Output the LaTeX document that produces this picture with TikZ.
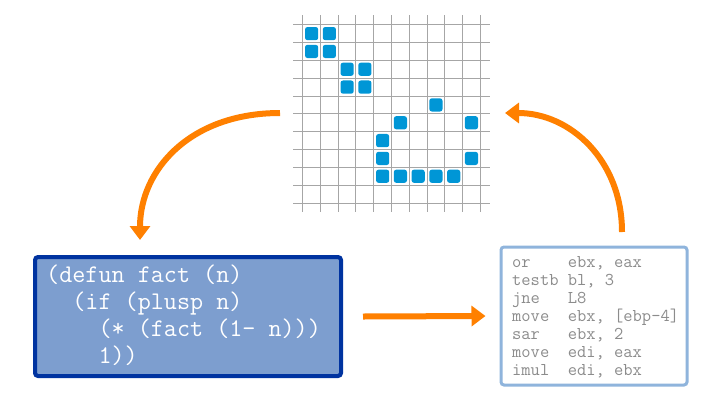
\documentclass[tikz,border=0pt]{standalone}
\usetikzlibrary{arrows.meta}
\definecolor{blk}{RGB}{0,150,214}
\definecolor{org}{RGB}{255,128,0}
\definecolor{lisp}{RGB}{125,158,207}
\definecolor{lispb}{RGB}{0,51,160}
\definecolor{asmb}{RGB}{143,180,220}
\tikzset{
  conn/.style={org,line width=6pt,-{Triangle[width=20pt,length=14pt]}},
  cell/.style={blk,rounded corners=2.5pt},
}
\begin{document}
\begin{tikzpicture}[x=1pt,y=-1pt]
\useasboundingbox (0,0) rectangle (720,405);
% grid
\foreach \i in {0,...,10}{
  \draw[gray!70,line width=1pt] ({302.7+17.76*\i},15) -- ({302.7+17.76*\i},212);
  \draw[gray!70,line width=1pt] (293,{24.7+17.83*\i}) -- (490,{24.7+17.83*\i});
}
\foreach \c/\r in {0/0,1/0,0/1,1/1,2/2,3/2,2/3,3/3,7/4,5/5,9/5,4/6,4/7,9/7,4/8,5/8,6/8,7/8,8/8}{
  \fill[cell] ({302.7+17.76*\c+2.3},{24.7+17.83*\r+2.3}) rectangle ++(13.2,13.2);
}
\coordinate (gl) at (280,113);
\coordinate (gr) at (505,113);
\node[draw=lispb,fill=lisp,line width=4pt,rounded corners=3pt,minimum width=306pt,minimum height=119pt,inner sep=0pt] (lispbox) at (188,316.5) {};
\node[anchor=north west,white,font=\ttfamily\fontsize{25.4}{27}\selectfont,align=left,inner sep=0pt] (code) at (46,265)
 {(defun fact (n)\\\ \ (if (plusp n)\\\ \ \ \ (* (fact (1- n)))\\\ \ \ \ 1))};
\node[draw=asmb,fill=white,line width=3pt,rounded corners=3pt,minimum width=186pt,minimum height=138pt,inner sep=0pt] (asmbox) at (594,316) {};
\node[anchor=north west,gray!90,font=\ttfamily\fontsize{18}{18}\selectfont,align=left,inner sep=0pt] (asm) at (512,256)
 {or\ \ \ \ ebx, eax\\testb bl, 3\\jne\ \ \ L8\\move\ \ ebx, [ebp-4]\\sar\ \ \ ebx, 2\\move\ \ edi, eax\\imul\ \ edi, ebx};
\draw[conn] (gl) .. controls (190,113) and (140,170) .. (140,240);
\draw[conn] (lispbox.east) ++(20,0) coordinate (a1) (a1) -- ([xshift=-14pt]asmbox.west);
\draw[conn] (622,232) .. controls (622,160) and (570,113) .. (gr);
\end{tikzpicture}
\end{document}
